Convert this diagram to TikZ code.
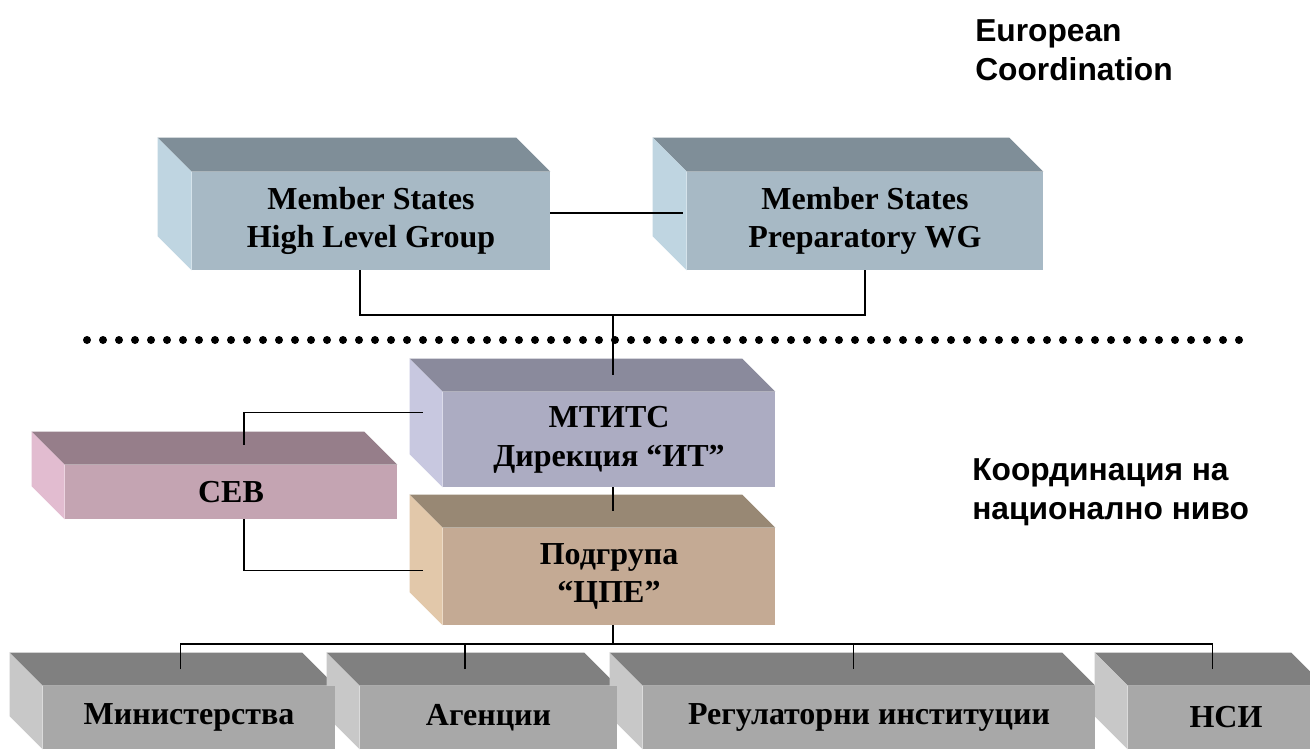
\documentclass[tikz,border=0pt]{standalone}
\usepackage{fontspec}
\setmainfont{Liberation Serif}
\newfontfamily\arialfont{Liberation Sans}
\usetikzlibrary{calc,backgrounds}

% box colours: top face, side face, front face
\definecolor{topms}{HTML}{7F8E98}
\definecolor{sidems}{HTML}{BFD5E1}
\definecolor{frontms}{HTML}{A7B9C5}
\definecolor{topmt}{HTML}{8A8A9C}
\definecolor{sidemt}{HTML}{C8C8E0}
\definecolor{frontmt}{HTML}{ACACC2}
\definecolor{topcp}{HTML}{988874}
\definecolor{sidecp}{HTML}{E2C8AA}
\definecolor{frontcp}{HTML}{C4AA94}
\definecolor{topce}{HTML}{967E8A}
\definecolor{sidece}{HTML}{E2BCD0}
\definecolor{frontce}{HTML}{C4A4B2}
\definecolor{topgr}{HTML}{808080}
\definecolor{sidegr}{HTML}{C8C8C8}
\definecolor{frontgr}{HTML}{A8A8A8}

\begin{document}
\begin{tikzpicture}[x=0.75pt, y=-0.75pt,
        face/.style={inner sep=0pt, align=center, font=\bfseries\fontsize{24}{29}\selectfont},
        note/.style={anchor=north west, align=left, inner sep=0pt, font=\arialfont\bfseries\fontsize{23.8}{29.3}\selectfont},
        link/.style={line width=1.1pt},
        dotline/.style={line width=6pt, line cap=round, dash pattern=on 0pt off 12pt}]
        \useasboundingbox (0,0) rectangle (1310,751);

        % european level
        \node[face, fill=frontms, minimum width=268.5pt, minimum height=73.5pt] (hlg) at (371,221) {Member States\\High Level Group};
        \node[face, fill=frontms, minimum width=267pt, minimum height=73.5pt] (wg) at (865,221) {Member States\\Preparatory WG};

        % national level
        \node[face, fill=frontmt, minimum width=249pt, minimum height=71.25pt] (mtits) at (609,439.5) {МТИТС\\Дирекция “ИТ”};
        \node[face, fill=frontcp, minimum width=249pt, minimum height=72.75pt] (cpe) at (609,576.5) {Подгрупа\\“ЦПЕ”};
        \node[face, fill=frontce, minimum width=249pt, minimum height=40.5pt] (ceb) at (231,492) {СЕВ};
        \node[face, fill=frontgr, minimum width=219pt, minimum height=47.25pt] (min) at (189,717.5) {Министерства};
        \node[face, fill=frontgr, minimum width=192.75pt, minimum height=47.25pt] (age) at (488.5,717.5) {Агенции};
        \node[face, fill=frontgr, minimum width=339pt, minimum height=47.25pt] (reg) at (869,717.5) {Регулаторни институции};
        \node[face, fill=frontgr, minimum width=147pt, minimum height=47.25pt] (nsi) at (1226,717.5) {НСИ};

        \node[note] (eu) at (975,19) {European\\Coordination};
        \node[note] (nat) at (972,458) {Координация на\\национално ниво};

        \begin{scope}[on background layer]
                \fill[white] (0,0) rectangle (1310,751);
                \foreach \n/\c/\d in {hlg/ms/34, wg/ms/34, mtits/mt/33, cpe/cp/33, ceb/ce/33, min/gr/33, age/gr/33, reg/gr/33, nsi/gr/33} {
                        \fill[top\c] (\n.north west) -- ++(-\d,-\d) -- ($(\n.north east)+(-\d,-\d)$) -- (\n.north east) -- cycle;
                        \fill[side\c] (\n.north west) -- ++(-\d,-\d) -- ($(\n.south west)+(-\d,-\d)$) -- (\n.south west) -- cycle;
                        \coordinate (\n-top) at ($(\n.north)+(-\d/2,-\d/2)$);
                }
        \end{scope}

        % dotted border between the two levels
        \coordinate (dl) at (87,340);
        \coordinate (dr) at (1245,340);
        \draw[dotline] (dl) -- (dr);

        % connectors
        \draw[link] ($(hlg.east)+(0,-8)$) -- ($(wg.west)+(-4,-8)$);
        \coordinate (bus1) at (613,315);
        \draw[link] ($(hlg.south)+(-11,0)$) |- (bus1) -| (wg.south);
        \draw[link] (bus1) -- (bus1 |- mtits-top);
        \draw[link] (mtits.south -| bus1) -- (bus1 |- cpe-top);
        \coordinate (cebx) at ($(ceb.north)+(13,-20)$);
        \draw[link] ($(mtits.west)+(-20,-27)$) -| (cebx);
        \draw[link] ($(ceb.south)+(13,0)$) |- ($(cpe.west)+(-20,-6)$);
        \coordinate (bus2) at (613,644);
        \draw[link] (cpe.south -| bus2) -- (bus2);
        \foreach \n/\s in {min/8, age/-7, reg/1, nsi/3}
                \draw[link] ($(\n-top)+(\s,0)$) |- (bus2);
\end{tikzpicture}
\end{document}
